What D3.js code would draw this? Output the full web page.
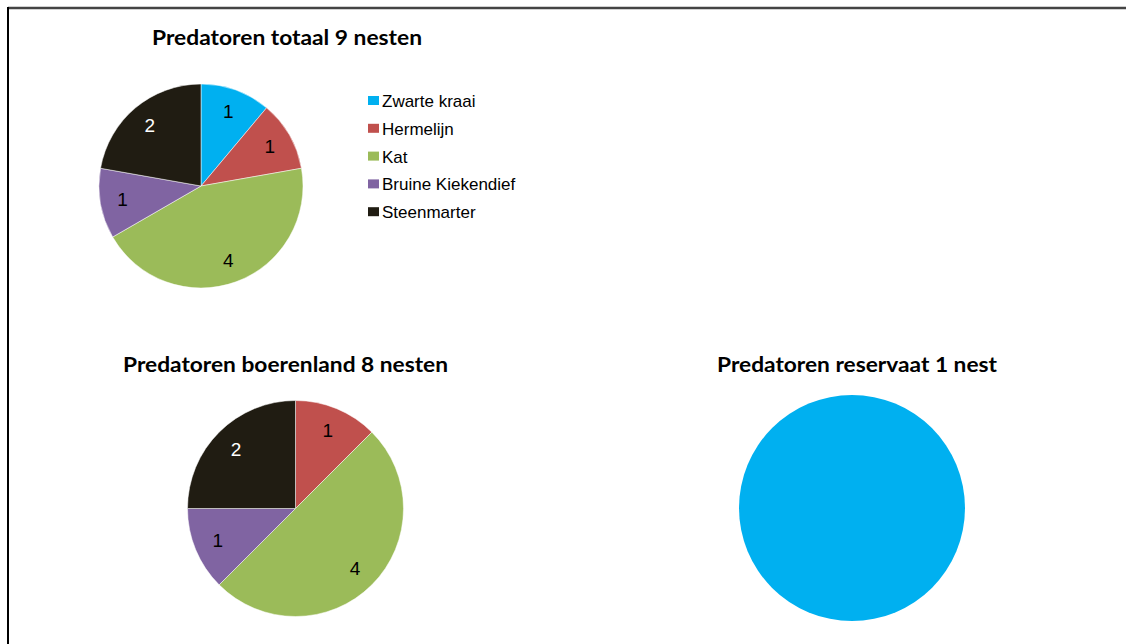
<!DOCTYPE html>
<html>
<head>
<meta charset="utf-8">
<script src="https://cdn.jsdelivr.net/npm/d3@7"></script>
<style>
  body { margin: 0; background: #fff; }
  svg { display: block; }
</style>
</head>
<body>
<svg id="chart"></svg>
<script>
// categorieen en waarden per diagram
const soorten = ["Zwarte kraai", "Hermelijn", "Kat", "Bruine Kiekendief", "Steenmarter"];
const totaal = [1, 1, 4, 1, 2];
const boerenland = [0, 1, 4, 1, 2];
const reservaat = [1, 0, 0, 0, 0];
const titels = ["Predatoren totaal 9 nesten", "Predatoren boerenland 8 nesten", "Predatoren reservaat 1 nest"];
const kleuren = ["#00b0f0", "#c0504d", "#9bbb59", "#8064a2", "#201c12"];

const width = 1126, height = 644;

const svg = d3.select("#chart")
  .attr("width", width)
  .attr("height", height)
  .attr("viewBox", [0, 0, width, height]);

// kader (alleen linker- en bovenrand zichtbaar)
svg.append("line")
  .attr("x1", 8).attr("x2", width).attr("y1", 8).attr("y2", 8)
  .attr("stroke", "#444").attr("stroke-width", 2.5);
svg.append("line")
  .attr("x1", 8).attr("x2", 8).attr("y1", 7).attr("y2", height)
  .attr("stroke", "#000").attr("stroke-width", 2);

const color = d3.scaleOrdinal().domain(soorten).range(kleuren);

const pie = d3.pie().sort(null).value(d => d.value);

// een taartdiagram tekenen
function taart(values, {cx, cy, r, title, tx, ty, tw, labels = true}) {
  const data = soorten.map((s, i) => ({name: s, value: values[i]}));
  const arcs = pie(data).filter(d => d.data.value > 0);
  const arc = d3.arc().innerRadius(0).outerRadius(r);
  const labelArc = d3.arc().innerRadius(r * 0.78).outerRadius(r * 0.78);

  const g = svg.append("g").attr("transform", `translate(${cx},${cy})`);
  g.selectAll("path")
    .data(arcs)
    .join("path")
      .attr("fill", d => color(d.data.name))
      .attr("stroke", "#fff")
      .attr("stroke-width", arcs.length > 1 ? 0.5 : 0)
      .attr("d", arc);

  if (labels) {
    g.selectAll("text")
      .data(arcs)
      .join("text")
        .attr("transform", d => `translate(${labelArc.centroid(d)})`)
        .attr("dy", "0.35em")
        .attr("text-anchor", "middle")
        .attr("font-family", "Liberation Sans, Arial, sans-serif")
        .attr("font-size", 19)
        .attr("fill", d => d.data.name === "Steenmarter" ? "#fff" : "#000")
        .text(d => d.data.value);
  }

  svg.append("text")
    .attr("x", tx).attr("y", ty)
    .attr("text-anchor", "middle")
    .attr("font-family", "Lato, sans-serif")
    .attr("font-weight", "bold")
    .attr("font-size", 21)
    .attr("textLength", tw)
    .attr("lengthAdjust", "spacingAndGlyphs")
    .attr("fill", "#000")
    .text(title);
}

taart(totaal, {cx: 201, cy: 186, r: 102, title: titels[0], tx: 287, ty: 45, tw: 270});
taart(boerenland, {cx: 295.5, cy: 508.5, r: 108, title: titels[1], tx: 285.5, ty: 372, tw: 325});
taart(reservaat, {cx: 852, cy: 508, r: 113, title: titels[2], tx: 857, ty: 372, tw: 280, labels: false});

// legenda
const legend = svg.append("g").attr("transform", "translate(368,101)");
const item = legend.selectAll("g")
  .data(soorten)
  .join("g")
    .attr("transform", (d, i) => `translate(0,${i * 27.8})`);
item.append("rect")
  .attr("x", 0).attr("y", -5)
  .attr("width", 11).attr("height", 9)
  .attr("fill", d => color(d));
item.append("text")
  .attr("x", 14).attr("y", 0)
  .attr("dy", "0.35em")
  .attr("font-family", "Liberation Sans, Arial, sans-serif")
  .attr("font-size", 17)
  .attr("fill", "#000")
  .text(d => d);
</script>
</body>
</html>
